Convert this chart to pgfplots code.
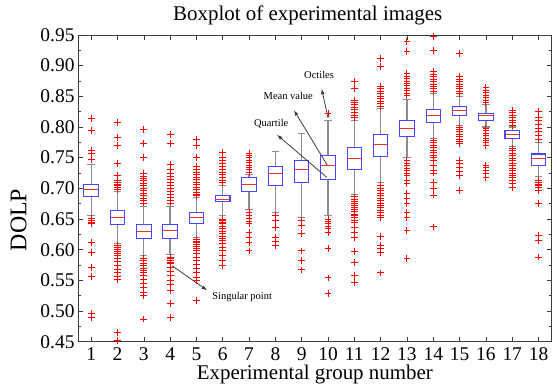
\documentclass[border=0pt]{standalone}
\usepackage{fontspec}
\setmainfont{Liberation Serif}
\usepackage{pgfplots}
\usepackage{pgfplotstable}
\pgfplotsset{compat=1.18}
\definecolor{boxblue}{RGB}{70,70,255}
\definecolor{medred}{RGB}{235,50,40}
\definecolor{outred}{RGB}{255,0,0}
\definecolor{whisk}{RGB}{140,140,140}
\definecolor{axgray}{RGB}{60,60,60}
% group: #1 position, #2 lower quartile, #3 median, #4 upper quartile, #5 lower whisker, #6 upper whisker
\newcommand\grp[6]{%
 \pgfmathsetmacro\xl{#1-0.275}\pgfmathsetmacro\xr{#1+0.275}%
 \pgfmathsetmacro\cl{#1-0.14}\pgfmathsetmacro\cR{#1+0.14}%
 \edef\tmp{%
  \noexpand\addplot[whisk, line width=1.3pt] coordinates {(#1,#5) (#1,#2)};
  \noexpand\addplot[whisk, line width=1.3pt] coordinates {(#1,#4) (#1,#6)};
  \noexpand\addplot[whisk, line width=1.1pt] coordinates {(\cl,#5) (\cR,#5)};
  \noexpand\addplot[whisk, line width=1.1pt] coordinates {(\cl,#6) (\cR,#6)};
  \noexpand\addplot[boxblue, line width=1.05pt, line join=miter] coordinates {(\xl,#2) (\xr,#2) (\xr,#4) (\xl,#4) (\xl,#2) (\xr,#2)};
  \noexpand\addplot[medred, line width=1.0pt] coordinates {(\xl,#3) (\xr,#3)};
 }\tmp}
\pgfplotstableread[row sep=\\]{
g v\\
1 0.814\\ 1 0.794\\ 1 0.762\\ 1 0.757\\ 1 0.747\\ 1 0.651\\ 1 0.648\\ 1 0.645\\ 1 0.643\\ 1 0.612\\ 1 0.596\\ 1 0.571\\ 1 0.556\\ 1 0.496\\ 1 0.489\\
2 0.807\\ 2 0.783\\ 2 0.770\\ 2 0.740\\ 2 0.721\\ 2 0.712\\ 2 0.710\\ 2 0.707\\ 2 0.704\\ 2 0.701\\ 2 0.698\\ 2 0.607\\ 2 0.603\\ 2 0.600\\ 2 0.597\\ 2 0.594\\ 2 0.590\\ 2 0.585\\ 2 0.580\\ 2 0.575\\ 2 0.568\\ 2 0.562\\ 2 0.556\\ 2 0.551\\ 2 0.465\\ 2 0.452\\
3 0.796\\ 3 0.773\\ 3 0.750\\ 3 0.725\\ 3 0.720\\ 3 0.716\\ 3 0.712\\ 3 0.708\\ 3 0.704\\ 3 0.700\\ 3 0.696\\ 3 0.692\\ 3 0.688\\ 3 0.684\\ 3 0.680\\ 3 0.676\\ 3 0.586\\ 3 0.582\\ 3 0.578\\ 3 0.574\\ 3 0.570\\ 3 0.566\\ 3 0.562\\ 3 0.558\\ 3 0.552\\ 3 0.545\\ 3 0.538\\ 3 0.530\\ 3 0.525\\ 3 0.487\\
4 0.788\\ 4 0.773\\ 4 0.739\\ 4 0.730\\ 4 0.725\\ 4 0.720\\ 4 0.715\\ 4 0.710\\ 4 0.705\\ 4 0.700\\ 4 0.695\\ 4 0.690\\ 4 0.685\\ 4 0.680\\ 4 0.676\\ 4 0.588\\ 4 0.585\\ 4 0.582\\ 4 0.579\\ 4 0.577\\ 4 0.571\\ 4 0.565\\ 4 0.558\\ 4 0.550\\ 4 0.543\\ 4 0.533\\ 4 0.512\\ 4 0.490\\ 4 0.449\\
5 0.780\\ 5 0.770\\ 5 0.750\\ 5 0.735\\ 5 0.730\\ 5 0.726\\ 5 0.722\\ 5 0.718\\ 5 0.714\\ 5 0.710\\ 5 0.706\\ 5 0.702\\ 5 0.698\\ 5 0.694\\ 5 0.690\\ 5 0.688\\ 5 0.617\\ 5 0.614\\ 5 0.611\\ 5 0.608\\ 5 0.605\\ 5 0.602\\ 5 0.599\\ 5 0.594\\ 5 0.588\\ 5 0.582\\ 5 0.576\\ 5 0.570\\ 5 0.562\\ 5 0.555\\ 5 0.550\\ 5 0.517\\
6 0.758\\ 6 0.751\\ 6 0.746\\ 6 0.741\\ 6 0.736\\ 6 0.731\\ 6 0.726\\ 6 0.722\\ 6 0.718\\ 6 0.713\\ 6 0.709\\ 6 0.650\\ 6 0.648\\ 6 0.645\\ 6 0.642\\ 6 0.638\\ 6 0.634\\ 6 0.630\\ 6 0.626\\ 6 0.622\\ 6 0.618\\ 6 0.615\\ 6 0.610\\ 6 0.604\\ 6 0.598\\ 6 0.590\\ 6 0.582\\ 6 0.574\\
7 0.757\\ 7 0.754\\ 7 0.750\\ 7 0.746\\ 7 0.742\\ 7 0.738\\ 7 0.734\\ 7 0.730\\ 7 0.726\\ 7 0.661\\ 7 0.656\\ 7 0.651\\ 7 0.646\\ 7 0.642\\ 7 0.628\\ 7 0.620\\ 7 0.612\\ 7 0.598\\
8 0.656\\ 8 0.648\\ 8 0.636\\ 8 0.620\\ 8 0.613\\ 8 0.607\\
9 0.648\\ 9 0.640\\ 9 0.626\\ 9 0.598\\ 9 0.583\\ 9 0.567\\
10 0.822\\ 10 0.650\\ 10 0.646\\ 10 0.642\\ 10 0.638\\ 10 0.634\\ 10 0.628\\ 10 0.602\\ 10 0.554\\ 10 0.529\\
11 0.874\\ 11 0.863\\ 11 0.844\\ 11 0.840\\ 11 0.836\\ 11 0.832\\ 11 0.828\\ 11 0.824\\ 11 0.819\\ 11 0.815\\ 11 0.686\\ 11 0.682\\ 11 0.678\\ 11 0.675\\ 11 0.672\\ 11 0.668\\ 11 0.665\\ 11 0.662\\ 11 0.658\\ 11 0.655\\ 11 0.652\\ 11 0.648\\ 11 0.645\\ 11 0.636\\ 11 0.628\\ 11 0.620\\ 11 0.597\\ 11 0.579\\ 11 0.558\\ 11 0.547\\
12 0.912\\ 12 0.898\\ 12 0.866\\ 12 0.862\\ 12 0.858\\ 12 0.854\\ 12 0.850\\ 12 0.846\\ 12 0.842\\ 12 0.838\\ 12 0.834\\ 12 0.705\\ 12 0.700\\ 12 0.696\\ 12 0.692\\ 12 0.688\\ 12 0.684\\ 12 0.680\\ 12 0.676\\ 12 0.672\\ 12 0.668\\ 12 0.664\\ 12 0.660\\ 12 0.656\\ 12 0.653\\ 12 0.622\\ 12 0.607\\ 12 0.602\\ 12 0.596\\ 12 0.562\\
13 0.939\\ 13 0.923\\ 13 0.887\\ 13 0.883\\ 13 0.879\\ 13 0.875\\ 13 0.871\\ 13 0.867\\ 13 0.863\\ 13 0.859\\ 13 0.855\\ 13 0.851\\ 13 0.745\\ 13 0.741\\ 13 0.737\\ 13 0.733\\ 13 0.729\\ 13 0.725\\ 13 0.721\\ 13 0.713\\ 13 0.708\\ 13 0.691\\ 13 0.683\\ 13 0.675\\ 13 0.661\\ 13 0.653\\ 13 0.631\\ 13 0.585\\
14 0.948\\ 14 0.925\\ 14 0.890\\ 14 0.886\\ 14 0.882\\ 14 0.878\\ 14 0.874\\ 14 0.870\\ 14 0.866\\ 14 0.862\\ 14 0.858\\ 14 0.778\\ 14 0.774\\ 14 0.770\\ 14 0.766\\ 14 0.762\\ 14 0.758\\ 14 0.754\\ 14 0.750\\ 14 0.746\\ 14 0.738\\ 14 0.729\\ 14 0.725\\ 14 0.710\\ 14 0.700\\ 14 0.689\\ 14 0.637\\
15 0.920\\ 15 0.882\\ 15 0.878\\ 15 0.874\\ 15 0.870\\ 15 0.866\\ 15 0.862\\ 15 0.858\\ 15 0.854\\ 15 0.800\\ 15 0.796\\ 15 0.792\\ 15 0.788\\ 15 0.784\\ 15 0.780\\ 15 0.776\\ 15 0.773\\ 15 0.746\\ 15 0.740\\ 15 0.734\\ 15 0.727\\ 15 0.721\\ 15 0.696\\
16 0.865\\ 16 0.860\\ 16 0.856\\ 16 0.852\\ 16 0.848\\ 16 0.844\\ 16 0.840\\ 16 0.798\\ 16 0.794\\ 16 0.790\\ 16 0.786\\ 16 0.782\\ 16 0.778\\ 16 0.774\\ 16 0.770\\ 16 0.738\\ 16 0.734\\ 16 0.729\\ 16 0.724\\ 16 0.718\\
17 0.827\\ 17 0.823\\ 17 0.819\\ 17 0.815\\ 17 0.811\\ 17 0.807\\ 17 0.803\\ 17 0.765\\ 17 0.761\\ 17 0.757\\ 17 0.753\\ 17 0.749\\ 17 0.745\\ 17 0.741\\ 17 0.737\\ 17 0.733\\ 17 0.729\\ 17 0.725\\ 17 0.721\\ 17 0.717\\ 17 0.713\\ 17 0.708\\ 17 0.702\\
18 0.825\\ 18 0.816\\ 18 0.810\\ 18 0.804\\ 18 0.798\\ 18 0.792\\ 18 0.786\\ 18 0.780\\ 18 0.713\\ 18 0.710\\ 18 0.707\\ 18 0.704\\ 18 0.701\\ 18 0.697\\ 18 0.675\\ 18 0.623\\ 18 0.615\\ 18 0.588\\
}\outliers
\begin{document}
\begin{tikzpicture}
\begin{axis}[
  name=ax,
  width=473.7bp, height=306.7bp, scale only axis,
  xmin=0.5, xmax=18.5, ymin=0.45, ymax=0.95,
  xtick={1,2,3,4,5,6,7,8,9,10,11,12,13,14,15,16,17,18},
  ytick={0.45,0.50,0.55,0.60,0.65,0.70,0.75,0.80,0.85,0.90,0.95},
  minor y tick num=1,
  tick align=inside,
  major tick length=5bp, minor tick length=3bp,
  every tick/.style={axgray, line width=0.5pt},
  axis line style={axgray, line width=0.8pt},
  tick label style={font=\fontsize{19.5}{20}\selectfont},
  yticklabel style={/pgf/number format/.cd, fixed, fixed zerofill, precision=2, assume math mode=true},
  xticklabel style={/pgf/number format/assume math mode=true, yshift=-2.5bp},
  label style={font=\fontsize{21}{24}\selectfont},
  title style={font=\fontsize{21}{24}\selectfont, at={(axis description cs:0.485,1.029)}, anchor=base},
  xlabel style={at={(axis description cs:0.5,-0.124)}, anchor=base},
  ylabel style={font=\fontsize{24}{26}\selectfont, at={(axis description cs:-0.1256,0.397)}, anchor=center},
  title={Boxplot of experimental images},
  xlabel={Experimental group number},
  ylabel={DOLP},
]
\grp{1}{0.686}{0.698}{0.7065}{0.656}{0.739}
\grp{2}{0.641}{0.653}{0.664}{0.610}{0.695}
\grp{3}{0.618}{0.630}{0.641}{0.590}{0.670}
\grp{4}{0.619}{0.631}{0.641}{0.592}{0.670}
\grp{5}{0.642}{0.652}{0.660}{0.620}{0.685}
\grp{6}{0.679}{0.682}{0.689}{0.655}{0.705}
\grp{7}{0.695}{0.707}{0.717}{0.665}{0.722}
\grp{8}{0.704}{0.725}{0.736}{0.660}{0.760}
\grp{9}{0.709}{0.731}{0.746}{0.652}{0.790}
\grp{10}{0.714}{0.738}{0.754}{0.656}{0.811}
\grp{11}{0.731}{0.749}{0.766}{0.690}{0.810}
\grp{12}{0.752}{0.772}{0.788}{0.710}{0.830}
\grp{13}{0.784}{0.798}{0.811}{0.750}{0.845}
\grp{14}{0.808}{0.818}{0.829}{0.781}{0.855}
\grp{15}{0.819}{0.827}{0.834}{0.803}{0.850}
\grp{16}{0.811}{0.818}{0.822}{0.800}{0.836}
\grp{17}{0.781}{0.788}{0.795}{0.768}{0.800}
\grp{18}{0.738}{0.749}{0.756}{0.720}{0.775}
\addplot[only marks, mark=+, mark size=3.4bp, color=outred, mark options={draw=outred, line width=1.0pt}] table[x=g, y=v] {\outliers};
% annotations
\draw[-latex, axgray, line width=0.8pt] (axis cs:10.0,0.815) -- (axis cs:9.76,0.862);
\draw[-latex, axgray, line width=0.8pt] (axis cs:9.97,0.738) -- (axis cs:8.71,0.827);
\draw[-latex, axgray, line width=0.8pt] (axis cs:9.95,0.718) -- (axis cs:8.07,0.787);
\draw[-latex, axgray, line width=0.8pt] (axis cs:4.07,0.574) -- (axis cs:5.40,0.534);
\node[font=\fontsize{10.5}{12}\selectfont, inner sep=0pt] at (axis cs:9.66,0.885) {Octiles};
\node[font=\fontsize{10.5}{12}\selectfont, inner sep=0pt] at (axis cs:8.49,0.850) {Mean value};
\node[font=\fontsize{10.5}{12}\selectfont, inner sep=0pt] at (axis cs:7.84,0.806) {Quartile};
\node[font=\fontsize{10.5}{12}\selectfont, inner sep=0pt, anchor=west] at (axis cs:5.6,0.523) {Singular point};
\end{axis}
\path ([shift={(-78bp,-43.3bp)}]ax.south west) rectangle ([shift={(5.3bp,35bp)}]ax.north east);
\end{tikzpicture}
\end{document}
